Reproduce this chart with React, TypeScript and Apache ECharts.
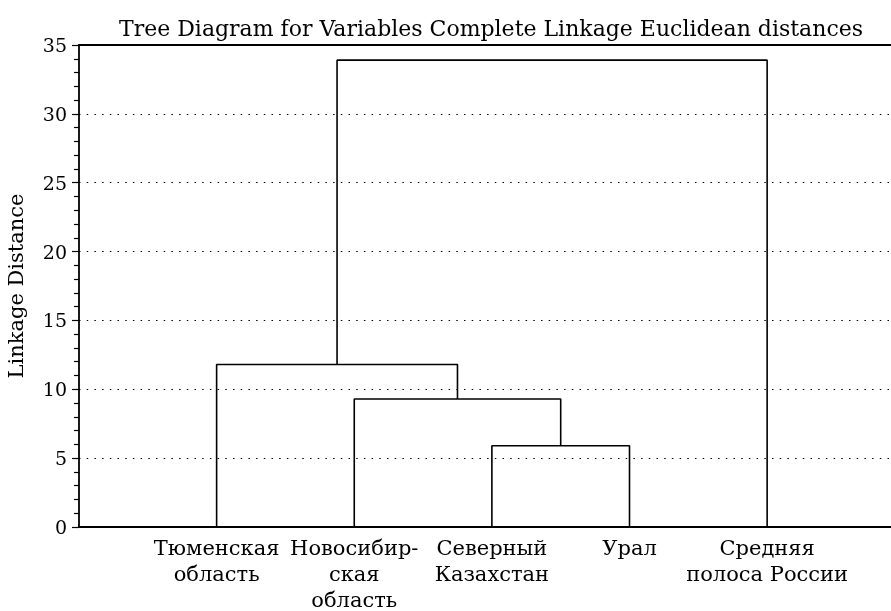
import React, { useEffect, useRef } from "react";
import * as echarts from "echarts";

const leafLabels = ["Тюменская\nобласть", "Новосибир-\nская\nобласть", "Северный\nКазахстан", "Урал", "Средняя\nполоса России"];
// merges: [nodeA, nodeB, linkage distance]; nodes 0-4 are leaves, merge k creates node 5+k
const merges: [number, number, number][] = [
  [2, 3, 5.9],
  [1, 5, 9.3],
  [0, 6, 11.8],
  [7, 4, 33.9],
];
const yTicks = [0, 5, 10, 15, 20, 25, 30, 35];

const FONT = "DejaVu Serif";

export default function App() {
  const ref = useRef<HTMLDivElement>(null);
  useEffect(() => {
    if (!ref.current) return;
    const chart = echarts.init(ref.current, undefined, { renderer: "svg" });
    const nodes: { x: number; y: number }[] = leafLabels.map((_, i) => ({ x: i + 1, y: 0 }));
    const series: any[] = [];
    merges.forEach(([a, b, h]) => {
      const na = nodes[a];
      const nb = nodes[b];
      nodes.push({ x: (na.x + nb.x) / 2, y: h });
      series.push({
        type: "line",
        data: [
          [na.x, na.y],
          [na.x, h],
          [nb.x, h],
          [nb.x, nb.y],
        ],
        symbol: "none",
        lineStyle: { color: "#000", width: 1.6 },
        z: 5,
      });
    });
    chart.setOption({
      animation: false,
      title: {
        text: "Tree Diagram for Variables Complete Linkage Euclidean distances",
        left: 486,
        textAlign: "center",
        top: 12,
        textStyle: { fontFamily: FONT, fontSize: 22, fontWeight: "normal", color: "#000" },
      },
      grid: { left: 79, right: 0, top: 45, bottom: 84, outerBoundsMode: "none", containLabel: false },
      xAxis: [
        {
          type: "value",
          min: 0,
          max: 5.9,
          interval: 1,
          axisLine: { show: true, lineStyle: { color: "#000", width: 1.8 } },
          axisTick: { show: false },
          splitLine: { show: false },
          axisLabel: {
            showMaxLabel: false,
            showMinLabel: false,
            formatter: (v: number) => leafLabels[Math.round(v) - 1] ?? "",
            fontFamily: FONT,
            fontSize: 21,
            color: "#000",
            lineHeight: 26,
            margin: 8,
          },
        },
        {
          type: "value",
          position: "top",
          min: 0,
          max: 5.9,
          axisLine: { show: true, lineStyle: { color: "#000", width: 1.8 } },
          axisTick: { show: false },
          axisLabel: { show: false },
          splitLine: { show: false },
        },
      ],
      yAxis: {
        type: "value",
        min: yTicks[0],
        max: yTicks[yTicks.length - 1],
        interval: 5,
        name: "Linkage Distance",
        nameLocation: "middle",
        nameRotate: 90,
        nameGap: 53,
        nameTextStyle: { fontFamily: FONT, fontSize: 21, color: "#000" },
        axisLine: { show: true, lineStyle: { color: "#000", width: 1.8 } },
        axisTick: { show: true, length: 7, lineStyle: { color: "#000", width: 1.2 } },
        minorTick: { show: true, splitNumber: 5, length: 5, lineStyle: { color: "#000", width: 1.2 } },
        axisLabel: { fontFamily: FONT, fontSize: 19, color: "#000", margin: 12 },
        splitLine: {
          show: true,
          lineStyle: { color: "#000", width: 1.2, type: [1.5, 6.2] },
          showMinLine: false,
          showMaxLine: false,
        },
      },
      series,
    });
    return () => chart.dispose();
  }, []);
  return <div ref={ref} style={{ position: "fixed", left: 0, top: 0, width: 891, height: 611 }} />;
}
